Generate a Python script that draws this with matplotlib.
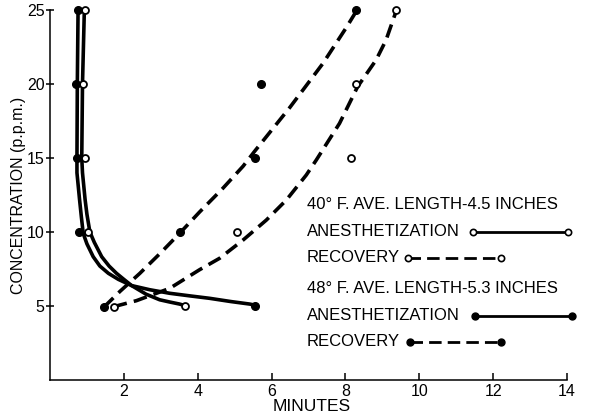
import matplotlib
matplotlib.use("Agg")
import matplotlib.pyplot as plt

plt.rcParams['font.family'] = ['Liberation Sans', 'DejaVu Sans']

# 40 F, ave. length 4.5 in  (open circles)
anes40_min = [0.96, 0.90, 0.95, 1.02, 3.65]
anes40_conc = [25, 20, 15, 10, 5]
rec40_min = [1.72, 5.06, 8.15, 8.29, 9.37]
rec40_conc = [4.95, 10, 15, 20, 25]

# 48 F, ave. length 5.3 in  (filled circles)
anes48_min = [0.76, 0.70, 0.74, 0.78, 5.56]
anes48_conc = [25, 20, 15, 10, 5]
rec48_min = [1.45, 3.51, 5.55, 5.71, 8.29]
rec48_conc = [4.9, 10, 15, 20, 25]

# hand drawn curves
anes40_fit_min = [0.93, 0.88, 0.86, 0.88, 0.95, 1.00, 1.08, 1.20, 1.40, 1.60, 1.80,
                  2.00, 2.21, 2.60, 2.97, 3.24, 3.51, 3.65]
anes40_fit_conc = [25, 20, 15, 14, 12.2, 11.2, 10.0, 9.3, 8.33, 7.7, 7.21,
                   6.8, 6.38, 5.8, 5.42, 5.27, 5.13, 5.03]
anes48_fit_min = [0.76, 0.74, 0.73, 0.73, 0.80, 0.85, 0.90, 1.00, 1.17, 1.35, 1.58,
                  1.85, 2.21, 2.70, 3.24, 3.80, 4.32, 4.90, 5.41, 5.56]
anes48_fit_conc = [25, 20, 15, 14, 12.2, 11.0, 9.9, 9.2, 8.33, 7.7, 7.21,
                   6.8, 6.38, 6.1, 5.86, 5.68, 5.52, 5.3, 5.13, 5.05]
rec40_fit_min = [1.72, 2.34, 3.24, 4.05, 4.59, 5.23, 5.86, 6.40, 6.94, 7.21, 7.84,
                 8.33, 8.83, 9.10, 9.37]
rec40_fit_conc = [4.95, 5.36, 6.19, 7.45, 8.22, 9.46, 10.81, 12.16, 13.85, 14.86, 17.34,
                  19.82, 21.62, 22.97, 24.9]
rec48_fit_min = [1.45, 1.90, 2.43, 3.00, 3.51, 4.05, 4.68, 5.23, 5.54, 6.49, 7.39,
                 8.02, 8.29]
rec48_fit_conc = [4.9, 6.0, 7.2, 8.6, 9.91, 11.35, 12.95, 14.45, 15.45, 18.4, 21.39,
                  23.8, 24.9]

x_ticks = [2, 4, 6, 8, 10, 12, 14]
y_ticks = [5, 10, 15, 20, 25]

fig = plt.figure(figsize=(5.89, 4.15), dpi=100)
ax = fig.add_axes([50 / 589, 35 / 415, 517 / 589, 370 / 415])

lw = 2.6
dash = (0, (3.8, 2.0))

ax.plot(anes40_fit_min, anes40_fit_conc, color='black', lw=lw, solid_capstyle='round')
ax.plot(anes48_fit_min, anes48_fit_conc, color='black', lw=lw, solid_capstyle='round')
ax.plot(rec40_fit_min, rec40_fit_conc, color='black', lw=lw, linestyle=dash)
ax.plot(rec48_fit_min, rec48_fit_conc, color='black', lw=lw, linestyle=dash)

open_style = dict(linestyle='none', marker='o', markersize=5, markerfacecolor='white',
                  markeredgecolor='black', markeredgewidth=1.3, clip_on=False, zorder=5)
fill_style = dict(linestyle='none', marker='o', markersize=5.5, color='black',
                  clip_on=False, zorder=5)
ax.plot(anes40_min, anes40_conc, **open_style)
ax.plot(rec40_min, rec40_conc, **open_style)
ax.plot(anes48_min, anes48_conc, **fill_style)
ax.plot(rec48_min, rec48_conc, **fill_style)

ax.set_xlim(0, 14)
ax.set_ylim(0, 25)
ax.set_xticks(x_ticks)
ax.set_yticks(y_ticks)
ax.spines['top'].set_visible(False)
ax.spines['right'].set_visible(False)
for s in ('left', 'bottom'):
    ax.spines[s].set_linewidth(1.1)
ax.tick_params(axis='x', direction='in', length=5, width=1.1, labelsize=11.5, pad=3)
ax.tick_params(axis='y', direction='inout', length=6, width=1.1, labelsize=11.5, pad=1)

ax.set_xlabel('MINUTES', fontsize=12.5)
ax.xaxis.set_label_coords(0.507, -0.05)
ax.set_ylabel('CONCENTRATION (p.p.m.)', fontsize=11.5)
ax.yaxis.set_label_coords(-0.047, 0.5)

# key
tx = 0.497
fs = 12
ax.text(tx, 0.473, '40° F. AVE. LENGTH-4.5 INCHES', transform=ax.transAxes, fontsize=fs, va='center')
ax.text(tx, 0.401, 'ANESTHETIZATION', transform=ax.transAxes, fontsize=fs, va='center')
ax.text(tx, 0.330, 'RECOVERY', transform=ax.transAxes, fontsize=fs, va='center')
ax.text(tx, 0.246, '48° F. AVE. LENGTH-5.3 INCHES', transform=ax.transAxes, fontsize=fs, va='center')
ax.text(tx, 0.173, 'ANESTHETIZATION', transform=ax.transAxes, fontsize=fs, va='center')
ax.text(tx, 0.103, 'RECOVERY', transform=ax.transAxes, fontsize=fs, va='center')

key_lw = 2.0
key_open = dict(marker='o', markersize=4.5, markerfacecolor='white', markeredgecolor='black',
                markeredgewidth=1.2, color='black', lw=key_lw, transform=ax.transAxes, clip_on=False)
key_fill = dict(marker='o', markersize=5, color='black', lw=key_lw,
                transform=ax.transAxes, clip_on=False)
ax.plot([0.818, 1.002], [0.401, 0.401], **key_open)
ax.plot([0.692, 0.872], [0.330, 0.330], linestyle=(0, (4.5, 2.2)), **key_open)
ax.plot([0.822, 1.010], [0.173, 0.173], **key_fill)
ax.plot([0.696, 0.872], [0.103, 0.103], linestyle=(0, (4.5, 2.2)), **key_fill)

fig.savefig('out.png', dpi=100)
